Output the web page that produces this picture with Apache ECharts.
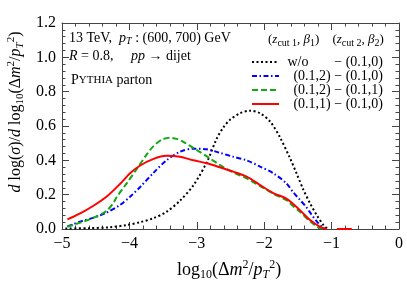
<!DOCTYPE html>
<html><head><meta charset="utf-8">
<script src="https://cdn.jsdelivr.net/npm/echarts@6/dist/echarts.min.js"></script>
<style>html,body{margin:0;padding:0;background:#fff}#c{width:407px;height:292px}</style>
</head><body><div id="c"></div>
<script>
const xTicks = [-5,-4,-3,-2,-1,0];
const yTicks = [0,0.2,0.4,0.6,0.8,1.0,1.2];

const xBlack = [-4.95,-4.6,-4.3,-4.04,-3.84,-3.65,-3.45,-3.25,-3.05,-2.85,-2.7,-2.6,-2.51,-2.36,-2.21,-2.06,-1.91,-1.77,-1.62,-1.52,-1.42,-1.32,-1.22,-1.12,-1.06];
const yBlack = [0.003,0.005,0.01,0.023,0.04,0.062,0.10,0.165,0.255,0.39,0.53,0.595,0.635,0.674,0.689,0.674,0.625,0.537,0.415,0.324,0.23,0.15,0.08,0.023,0.0];

const xBlue = [-4.92,-4.73,-4.54,-4.34,-4.14,-3.99,-3.84,-3.65,-3.45,-3.25,-3.05,-2.85,-2.66,-2.46,-2.26,-2.06,-1.86,-1.67,-1.57,-1.47,-1.37,-1.3,-1.22,-1.15,-1.10];
const yBlue = [0.015,0.043,0.065,0.095,0.14,0.188,0.245,0.324,0.40,0.45,0.468,0.464,0.444,0.421,0.40,0.363,0.324,0.265,0.215,0.17,0.125,0.085,0.045,0.015,0.0];

const xGreen = [-4.92,-4.73,-4.54,-4.34,-4.24,-4.19,-4.04,-3.89,-3.75,-3.65,-3.52,-3.40,-3.30,-3.20,-3.00,-2.80,-2.66,-2.46,-2.26,-2.06,-1.86,-1.67,-1.62,-1.47,-1.32,-1.2,-1.12];
const yGreen = [0.013,0.037,0.064,0.105,0.15,0.185,0.266,0.35,0.43,0.48,0.52,0.532,0.525,0.508,0.46,0.41,0.373,0.33,0.295,0.25,0.205,0.168,0.15,0.10,0.045,0.01,0.0];

const xRed = [-4.92,-4.73,-4.54,-4.34,-4.14,-3.99,-3.84,-3.65,-3.45,-3.25,-3.05,-2.85,-2.66,-2.46,-2.26,-2.06,-1.86,-1.67,-1.47,-1.32,-1.17,-1.07,null,-0.92,-0.70];
const yRed = [0.056,0.091,0.134,0.188,0.262,0.325,0.37,0.407,0.426,0.421,0.40,0.383,0.36,0.334,0.305,0.256,0.208,0.177,0.11,0.052,0.013,0.0,null,0.0,0.0];

const zip = (xs, ys) => xs.map((x,i) => x === null ? [null,null] : [x, ys[i]]);
const SERIF = 'Liberation Serif';
const frame = '#444';

const chart = echarts.init(document.getElementById('c'), null, {renderer:'canvas'});
const axBase = {
  type:'value',
  axisLine:{show:true, onZero:false, lineStyle:{color:frame, width:1}},
  axisTick:{show:true, inside:true, length:7, lineStyle:{color:frame}},
  minorTick:{show:true, splitNumber:5, length:3.5, lineStyle:{color:frame}},
  splitLine:{show:false}, minorSplitLine:{show:false}
};
function mkRich(fs, ss, lh) {
  return {
    b:{fontFamily:SERIF, fontSize:fs, lineHeight:lh, color:'#000'},
    i:{fontFamily:SERIF, fontSize:fs, lineHeight:lh, fontStyle:'italic', color:'#000'},
    sc:{fontFamily:SERIF, fontSize:Math.round(fs*0.78), lineHeight:lh, color:'#000'},
    sub:{fontFamily:SERIF, fontSize:ss, lineHeight:ss, verticalAlign:'bottom', color:'#000'},
    subi:{fontFamily:SERIF, fontSize:ss, lineHeight:ss, verticalAlign:'bottom', fontStyle:'italic', color:'#000'},
    sup:{fontFamily:SERIF, fontSize:ss, lineHeight:ss, verticalAlign:'top', color:'#000'}
  };
}
const richX = mkRich(18, 12, 22);
const richY = mkRich(16, 11, 20);
const richS = mkRich(14, 10, 17);
const massTitle = '{b|log}{sub|10}{b|(Δ}{i|m}{sup|2}{b|/}{i|p}{subi|T}{sup|2}{b|)}';
const legFont = '14px "Liberation Serif"';

const option = {
  animation:false,
  grid:{left:62, right:8, top:23, bottom:63},
  xAxis:[
    Object.assign({}, axBase, {min:-5, max:0, interval:1, position:'bottom',
      axisLabel:{fontFamily:SERIF, fontSize:16, color:'#000', margin:7,
        formatter:v => xTicks.includes(v) ? String(v).replace('-', '\u2212') : ''}}),
    Object.assign({}, axBase, {min:-5, max:0, interval:1, position:'top', axisLabel:{show:false}})
  ],
  yAxis:[
    Object.assign({}, axBase, {min:0, max:1.2, interval:0.2, position:'left',
      axisLabel:{fontFamily:SERIF, fontSize:16, color:'#000', margin:6,
        formatter:v => yTicks.some(t => Math.abs(t-v)<1e-9) ? v.toFixed(1) : ''}}),
    Object.assign({}, axBase, {min:0, max:1.2, interval:0.2, position:'right', axisLabel:{show:false}})
  ],
  series:[
    {type:'line', name:'w/o', data:zip(xBlack,yBlack), showSymbol:false, smooth:0.3, z:3,
      lineStyle:{color:'#000', width:2, type:[2,2.5]}},
    {type:'line', name:'(0.1,2)-(0.1,0)', data:zip(xBlue,yBlue), showSymbol:false, smooth:0.3, z:4,
      lineStyle:{color:'#0000ff', width:2, type:[5,2.5,1.5,2.5]}},
    {type:'line', name:'(0.1,2)-(0.1,1)', data:zip(xGreen,yGreen), showSymbol:false, smooth:0.3, z:5,
      lineStyle:{color:'#11aa11', width:2, type:[6,3]}},
    {type:'line', name:'(0.1,1)-(0.1,0)', data:zip(xRed,yRed), showSymbol:false, smooth:0.3, z:6, connectNulls:false,
      lineStyle:{color:'#ff0000', width:2}}
  ],
  graphic:[
    {type:'text', x:229, y:270, style:{text:massTitle, rich:richX, align:'center', verticalAlign:'middle'}},
    {type:'text', x:16, y:112, rotation:Math.PI/2,
      style:{text:'{i|d}{b| log(}{i|σ}{b|)/}{i|d}{b| }'+massTitle, rich:richY, align:'center', verticalAlign:'middle'}},
    {type:'text', x:69, y:38, style:{text:'{b|13 TeV,  }{i|p}{subi|T}{b| : (600, 700) GeV}', rich:richS, verticalAlign:'middle'}},
    {type:'text', x:69, y:56, style:{text:'{i|R}{b| = 0.8,     }{i|pp}{b| → dijet}', rich:richS, verticalAlign:'middle'}},
    {type:'text', x:71, y:80, style:{text:'{b|P}{sc|YTHIA}{b| parton}', rich:richS, verticalAlign:'middle'}},
    {type:'text', x:268, y:40, style:{text:'{b|(}{i|z}{sub|cut 1}{b|, }{i|β}{sub|1}{b|)    (}{i|z}{sub|cut 2}{b|, }{i|β}{sub|2}{b|)}', rich:mkRich(13, 10, 16), verticalAlign:'middle'}},
    {type:'line', shape:{x1:252, y1:62, x2:279, y2:62}, style:{stroke:'#000', lineWidth:2, lineDash:[2,2.5]}},
    {type:'line', shape:{x1:252, y1:76, x2:279, y2:76}, style:{stroke:'#0000ff', lineWidth:2, lineDash:[5,2.5,1.5,2.5]}},
    {type:'line', shape:{x1:252, y1:90, x2:279, y2:90}, style:{stroke:'#11aa11', lineWidth:2, lineDash:[6,3]}},
    {type:'line', shape:{x1:252, y1:104, x2:279, y2:104}, style:{stroke:'#ff0000', lineWidth:2}},
    {type:'text', x:298, y:62, style:{text:'w/o', font:legFont, fill:'#000', align:'center', verticalAlign:'middle'}},
    {type:'text', x:383, y:62, style:{text:'\u2212 (0.1,0)', font:legFont, fill:'#000', align:'right', verticalAlign:'middle'}},
    {type:'text', x:383, y:76, style:{text:'(0.1,2) \u2212 (0.1,0)', font:legFont, fill:'#000', align:'right', verticalAlign:'middle'}},
    {type:'text', x:383, y:90, style:{text:'(0.1,2) \u2212 (0.1,1)', font:legFont, fill:'#000', align:'right', verticalAlign:'middle'}},
    {type:'text', x:383, y:104, style:{text:'(0.1,1) \u2212 (0.1,0)', font:legFont, fill:'#000', align:'right', verticalAlign:'middle'}}
  ]
};
chart.setOption(option);
</script></body></html>
